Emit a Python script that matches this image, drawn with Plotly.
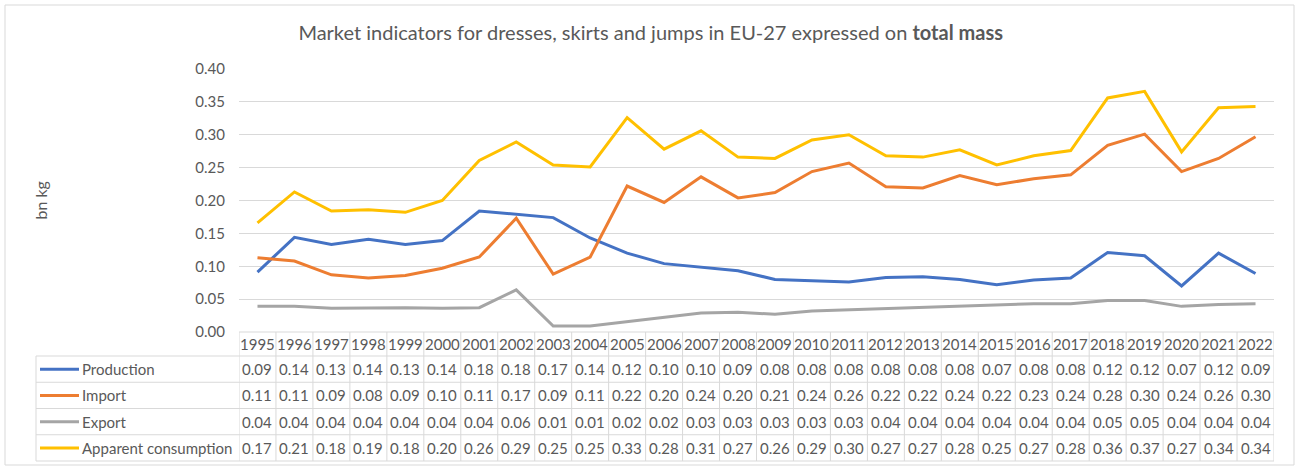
import plotly.graph_objects as go

years = [str(y) for y in range(1995, 2023)]
production = [0.091, 0.144, 0.133, 0.141, 0.133, 0.139, 0.184, 0.179, 0.174, 0.143,
              0.120, 0.104, 0.099, 0.093, 0.080, 0.078, 0.076, 0.083, 0.084, 0.080,
              0.072, 0.079, 0.082, 0.121, 0.116, 0.070, 0.120, 0.089]
imports = [0.113, 0.108, 0.087, 0.082, 0.086, 0.097, 0.114, 0.173, 0.088, 0.114,
           0.222, 0.197, 0.236, 0.204, 0.212, 0.244, 0.257, 0.221, 0.219, 0.238,
           0.224, 0.233, 0.239, 0.284, 0.301, 0.244, 0.264, 0.297]
exports = [0.039, 0.039, 0.036, 0.037, 0.037, 0.036, 0.037, 0.064, 0.009, 0.009,
           0.016, 0.023, 0.029, 0.030, 0.027, 0.032, 0.034, 0.036, 0.037, 0.039,
           0.041, 0.043, 0.043, 0.048, 0.048, 0.039, 0.042, 0.043]
apparent = [0.166, 0.213, 0.184, 0.186, 0.182, 0.200, 0.261, 0.289, 0.254, 0.251,
            0.326, 0.278, 0.306, 0.266, 0.264, 0.292, 0.300, 0.268, 0.266, 0.277,
            0.254, 0.268, 0.276, 0.356, 0.366, 0.274, 0.341, 0.343]

series_names = ["Production", "Import", "Export", "Apparent consumption"]
series_values = [production, imports, exports, apparent]
series_colors = ["#4472C4", "#ED7D31", "#A5A5A5", "#FFC000"]

FONT = "Lato"
TXT = "#595959"
GRID = "#D9D9D9"

W_PX, H_PX = 1304, 468
L, R, T, B = 239, 30, 69, 136
PW = W_PX - L - R
PH = H_PX - T - B
BOTTOM = T + PH  # pixel y of plot bottom


def px_x(px):
    return (px - L) / PW


def px_y(py):
    return (BOTTOM - py) / PH


fig = go.Figure()
for name, vals, col in zip(series_names, series_values, series_colors):
    fig.add_trace(go.Scatter(x=years, y=vals, mode="lines", name=name,
                             line=dict(color=col, width=3), showlegend=False))

shapes = []
annotations = []

# table geometry (pixels)
header_top = BOTTOM
header_bot = BOTTOM + 24
row_h = 26.25
row_tops = [header_bot + i * row_h for i in range(4)]
table_bot = header_bot + 4 * row_h
left_px = 36

line_style = dict(color=GRID, width=1)
shapes.append(dict(type="line", xref="x", yref="paper", x0=-0.5, x1=len(years) - 0.5,
                   y0=px_y(header_top), y1=px_y(header_top), line=line_style, layer="above"))
for yy in row_tops + [table_bot]:
    shapes.append(dict(type="line", xref="paper", yref="paper", x0=px_x(left_px), x1=1,
                       y0=px_y(yy), y1=px_y(yy), line=line_style))
for k in range(len(years) + 1):
    shapes.append(dict(type="line", xref="x", yref="paper", x0=k - 0.5, x1=k - 0.5,
                       y0=px_y(header_top), y1=px_y(table_bot), line=line_style))
shapes.append(dict(type="line", xref="paper", yref="paper", x0=px_x(left_px), x1=px_x(left_px),
                   y0=px_y(header_bot), y1=px_y(table_bot), line=line_style))
# outer border
shapes.append(dict(type="rect", xref="paper", yref="paper", x0=px_x(5), x1=px_x(1294),
                   y0=px_y(465), y1=px_y(5), line=dict(color=GRID, width=1)))

tfont = dict(family=FONT, size=15, color=TXT)
for i, yr in enumerate(years):
    annotations.append(dict(xref="x", yref="paper", x=i, y=px_y((header_top + header_bot) / 2),
                            text=yr, showarrow=False, font=tfont, xanchor="center", yanchor="middle"))
for r, (name, vals, col) in enumerate(zip(series_names, series_values, series_colors)):
    cy = px_y(row_tops[r] + row_h / 2)
    shapes.append(dict(type="line", xref="paper", yref="paper", x0=px_x(40), x1=px_x(79),
                       y0=cy, y1=cy, line=dict(color=col, width=3)))
    annotations.append(dict(xref="paper", yref="paper", x=px_x(80), y=cy, text=name,
                            showarrow=False, font=tfont, xanchor="left", yanchor="middle"))
    for i, v in enumerate(vals):
        annotations.append(dict(xref="x", yref="paper", x=i, y=cy, text=f"{v:.2f}",
                                showarrow=False, font=tfont, xanchor="center", yanchor="middle"))

annotations.append(dict(xref="paper", yref="paper", x=px_x(40), y=0.5, text="bn kg",
                        textangle=-90, showarrow=False, font=dict(family=FONT, size=16, color=TXT),
                        xanchor="center", yanchor="middle"))

fig.update_layout(
    width=W_PX, height=H_PX,
    margin=dict(l=L, r=R, t=T, b=B, autoexpand=False),
    paper_bgcolor="white", plot_bgcolor="white",
    title=dict(text="Market indicators for dresses, skirts and jumps in EU-27 expressed on <b>total mass</b>",
               x=0.499, xref="container", xanchor="center",
               y=1 - 33 / H_PX, yref="container", yanchor="middle",
               font=dict(family=FONT, size=20, color=TXT)),
    xaxis=dict(type="category", range=[-0.5, len(years) - 0.5], showticklabels=False,
               showgrid=False, zeroline=False, showline=False, fixedrange=True),
    yaxis=dict(range=[0, 0.40], dtick=0.05, tickformat=".2f", showgrid=True, gridcolor=GRID,
               gridwidth=1, zeroline=False, showline=False, ticks="",
               ticklabelstandoff=13, tickfont=dict(family=FONT, size=15, color=TXT)),
    shapes=shapes, annotations=annotations,
)

fig.write_html("out.html", config={"displayModeBar": False},
               post_script="document.body.style.margin='0';")
